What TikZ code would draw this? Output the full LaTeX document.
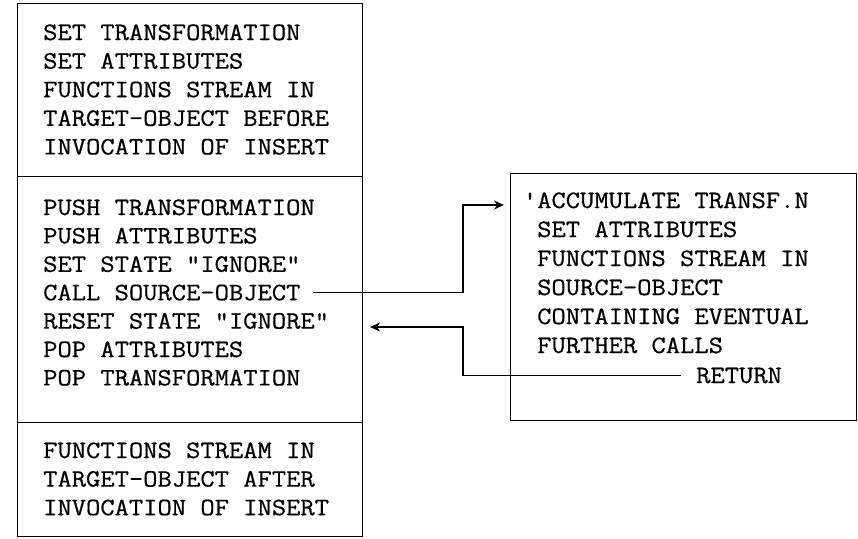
\documentclass[tikz,border=0pt]{standalone}
\usepackage{fontspec}
\setmonofont{Latin Modern Mono}[FakeBold=0.6]
\usetikzlibrary{arrows.meta}
\newcommand{\twline}[1]{\scalebox{1.11}[1]{#1}}
\begin{document}
\begin{tikzpicture}[x=1pt,y=-1pt,
  box/.style={draw, line width=1.1pt, inner sep=0pt, anchor=north west},
  txt/.style={anchor=base west, inner sep=0pt, font=\ttfamily\fontsize{25}{29}\selectfont},
  conn/.style={line width=1.1pt},
  arr/.style={conn, -{Stealth[length=10pt,width=9pt]}}]
\useasboundingbox (0,0) rectangle (858,538);
% left column boxes
\node[box, minimum width=345pt, minimum height=173pt] (topbox) at (17,3) {};
\node[box, minimum width=345pt, minimum height=246pt] (midbox) at (17,176) {};
\node[box, minimum width=345pt, minimum height=114pt] (botbox) at (17,422) {};
% right box
\node[box, minimum width=346pt, minimum height=247pt] (rbox) at (510,173) {};
% texts
\foreach \t [count=\i] in {SET TRANSFORMATION, SET ATTRIBUTES, FUNCTIONS STREAM IN, TARGET-OBJECT BEFORE, INVOCATION OF INSERT}
  \node[txt] (t\i) at (43,{40+28.6*(\i-1)}) {\twline{\t}};
\foreach \t [count=\i] in {PUSH TRANSFORMATION, PUSH ATTRIBUTES, SET STATE "IGNORE", CALL SOURCE-OBJECT, RESET STATE "IGNORE", POP ATTRIBUTES, POP TRANSFORMATION}
  \node[txt] (m\i) at (43,{215+28.4*(\i-1)}) {\twline{\t}};
\foreach \t [count=\i] in {FUNCTIONS STREAM IN, TARGET-OBJECT AFTER, INVOCATION OF INSERT}
  \node[txt] (b\i) at (43,{458+28.6*(\i-1)}) {\twline{\t}};
\foreach \t [count=\i] in {{\llap{'}ACCUMULATE TRANSF.N}, SET ATTRIBUTES, FUNCTIONS STREAM IN, SOURCE-OBJECT, CONTAINING EVENTUAL, FURTHER CALLS}
  \node[txt] (r\i) at (537,{208+29*(\i-1)}) {\twline{\t}};
\node[txt] (rr) at (696,383) {\twline{RETURN}};
% connectors
\coordinate (jr) at (463,0);
\coordinate (callin) at (510,205);
\coordinate (retin) at (362,327);
\draw[arr, shorten <=12pt, shorten >=6pt] (m4.east) -- (m4.east -| jr) |- (callin);
\draw[arr, shorten <=15pt, shorten >=8pt] (rr.west) -- (rr.west -| jr) |- (retin);
\end{tikzpicture}
\end{document}
